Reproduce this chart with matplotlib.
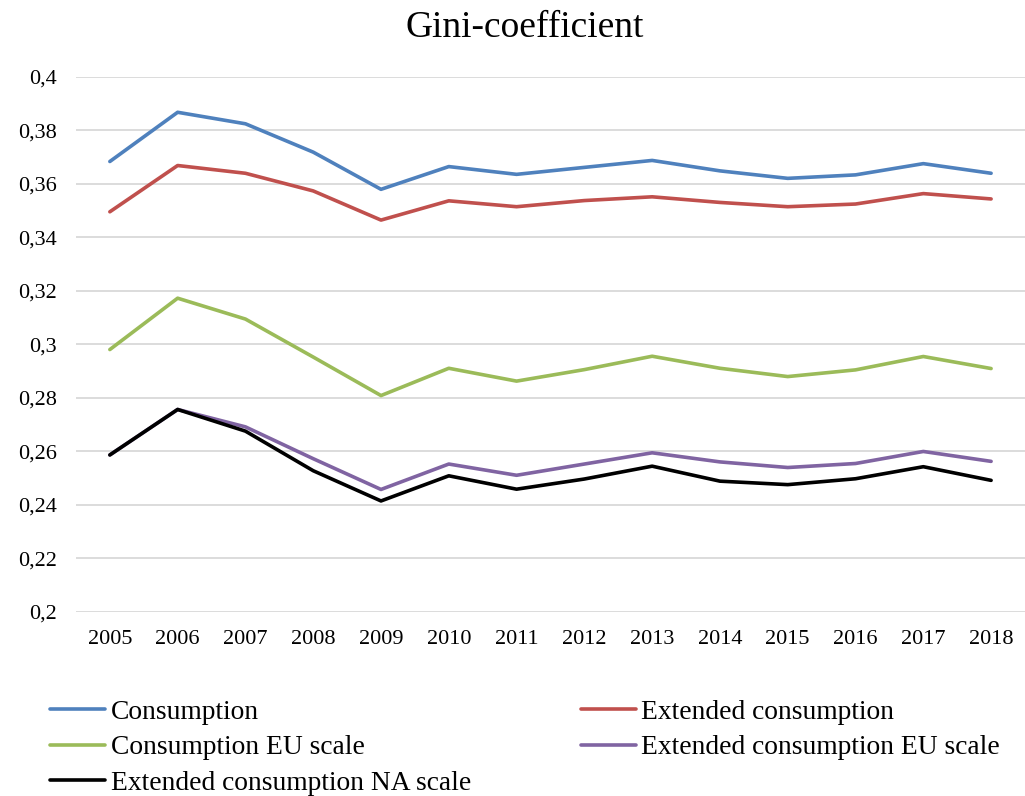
import matplotlib
matplotlib.use("Agg")
import matplotlib.pyplot as plt
from matplotlib.ticker import FuncFormatter, MultipleLocator

# Data
years = ["2005", "2006", "2007", "2008", "2009", "2010", "2011",
         "2012", "2013", "2014", "2015", "2016", "2017", "2018"]

consumption = [0.3684, 0.3868, 0.3825, 0.3719, 0.3580, 0.3665, 0.3636,
               0.3662, 0.3688, 0.3649, 0.3621, 0.3634, 0.3676, 0.3640]
extended = [0.3496, 0.3669, 0.3640, 0.3574, 0.3465, 0.3537, 0.3515,
            0.3538, 0.3552, 0.3531, 0.3515, 0.3525, 0.3564, 0.3544]
consumption_eu = [0.2981, 0.3173, 0.3095, 0.2953, 0.2809, 0.2911, 0.2863,
                  0.2906, 0.2956, 0.2911, 0.2880, 0.2905, 0.2955, 0.2910]
extended_eu = [0.2587, 0.2757, 0.2692, 0.2573, 0.2458, 0.2553, 0.2511,
               0.2553, 0.2595, 0.2561, 0.2540, 0.2555, 0.2600, 0.2563]
extended_na = [0.2587, 0.2757, 0.2676, 0.2528, 0.2415, 0.2509, 0.2459,
               0.2497, 0.2545, 0.2489, 0.2476, 0.2498, 0.2543, 0.2492]

series = [
    ("Consumption", consumption, "#4F81BD"),
    ("Extended consumption", extended, "#C0504D"),
    ("Consumption EU scale", consumption_eu, "#9BBB59"),
    ("Extended consumption EU scale", extended_eu, "#8064A2"),
    ("Extended consumption NA scale", extended_na, "#000000"),
]

plt.rcParams["font.family"] = ["Liberation Serif", "DejaVu Serif"]

fig = plt.figure(figsize=(10.25, 7.96), dpi=100)
ax = fig.add_axes([0.0741, 0.2312, 1.0 - 0.0741, 0.9033 - 0.2312])

x = list(range(len(years)))
lines = {}
for name, vals, color in series:
    ln, = ax.plot(x, vals, color=color, lw=2.6, solid_capstyle="round",
                  solid_joinstyle="round", label=name, zorder=3)
    lines[name] = ln

ax.set_xlim(-0.5, len(years) - 0.5)
ax.set_ylim(0.2, 0.4)
ax.yaxis.set_major_locator(MultipleLocator(0.02))
ax.yaxis.set_major_formatter(FuncFormatter(lambda v, p: ("%g" % round(v, 2)).replace(".", ",")))
ax.set_xticks(x)
ax.set_xticklabels(years)

ax.grid(axis="y", color="#D9D9D9", lw=1.3, zorder=0)
for s in ax.spines.values():
    s.set_visible(False)
ax.tick_params(axis="y", length=0, pad=14, labelsize=16)
ax.tick_params(axis="x", length=0, pad=13, labelsize=16)

fig.text(0.512, 0.965, "Gini-coefficient", ha="center", va="center", fontsize=27)

# legend filled row by row like the original (matplotlib fills by column)
order = ["Consumption", "Consumption EU scale", "Extended consumption NA scale",
         "Extended consumption", "Extended consumption EU scale"]
fig.legend([lines[n] for n in order], order, ncol=2, loc="upper left",
           bbox_to_anchor=(0.049, 0.121), frameon=False, fontsize=19.8,
           handlelength=2.0, handletextpad=0.2, labelspacing=0.37,
           columnspacing=4.0, borderpad=0, borderaxespad=0)

fig.savefig("out.png", dpi=100)
